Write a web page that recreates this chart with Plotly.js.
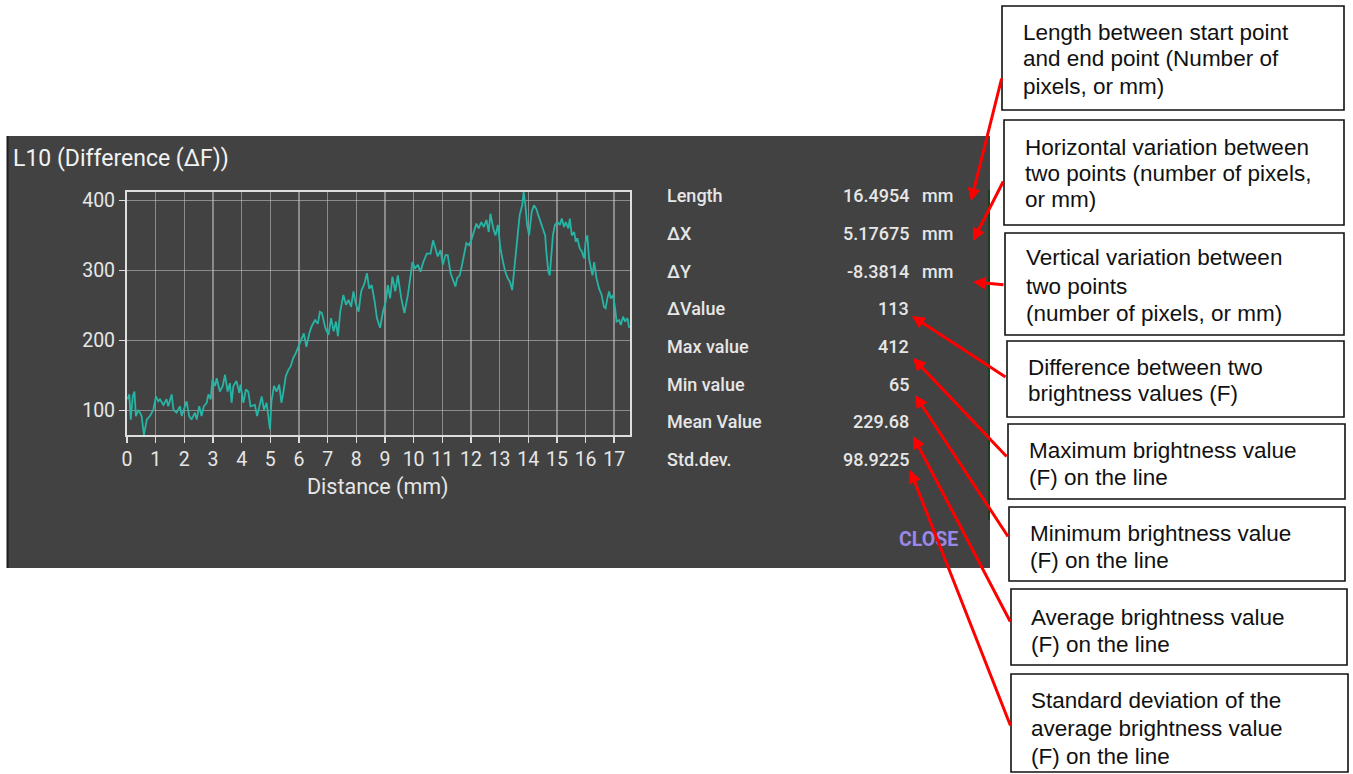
<!DOCTYPE html>
<html>
<head>
<meta charset="utf-8">
<script src="https://cdn.plot.ly/plotly-3.0.1.min.js"></script>
<style>html,body{margin:0;padding:0;background:#fff;}#chart{width:1353px;height:774px;}</style>
</head>
<body>
<div id="chart"></div>
<script>
// ---- data ----
const distance_mm = [0.02,0.08,0.13,0.20,0.26,0.31,0.40,0.51,0.59,0.69,0.80,0.92,1.01,1.09,1.15,1.27,1.38,1.44,1.56,1.62,1.73,1.85,1.91,2.02,2.08,2.17,2.25,2.37,2.43,2.52,2.60,2.68,2.78,2.84,2.92,2.98,3.07,3.13,3.24,3.34,3.42,3.51,3.59,3.65,3.71,3.82,3.92,3.96,4.06,4.15,4.23,4.31,4.46,4.54,4.61,4.70,4.78,4.87,4.99,5.04,5.13,5.22,5.31,5.39,5.47,5.54,5.63,5.71,5.80,5.89,6.01,6.09,6.17,6.26,6.36,6.44,6.56,6.66,6.73,6.80,6.92,7.03,7.12,7.21,7.29,7.36,7.44,7.55,7.64,7.73,7.82,7.90,7.98,8.08,8.17,8.29,8.37,8.45,8.54,8.64,8.72,8.83,8.93,9.03,9.10,9.18,9.26,9.36,9.45,9.57,9.68,9.80,9.88,9.96,10.05,10.15,10.24,10.34,10.46,10.59,10.68,10.76,10.84,10.94,11.02,11.11,11.19,11.29,11.38,11.46,11.52,11.61,11.69,11.77,11.84,11.93,12.01,12.10,12.19,12.27,12.36,12.45,12.54,12.62,12.68,12.78,12.86,12.94,13.03,13.12,13.20,13.28,13.36,13.44,13.52,13.61,13.70,13.79,13.84,13.90,13.96,14.03,14.12,14.20,14.28,14.35,14.43,14.52,14.59,14.63,14.70,14.75,14.82,14.86,14.93,15.02,15.10,15.17,15.25,15.31,15.40,15.45,15.52,15.60,15.66,15.71,15.80,15.87,15.95,16.00,16.06,16.12,16.19,16.24,16.30,16.38,16.47,16.56,16.64,16.70,16.76,16.82,16.88,16.96,17.03,17.08,17.17,17.23,17.31,17.38,17.46,17.52];
const brightness = [116,123,87,120,127,92,101,92,65,87,92,101,120,113,116,108,116,106,123,101,97,106,92,104,113,92,87,97,87,106,92,106,111,123,116,144,135,146,127,135,151,127,139,111,135,142,125,137,111,130,127,106,108,92,106,120,101,111,73,113,135,127,137,111,130,149,158,163,175,182,194,201,210,191,210,220,229,224,241,239,218,208,232,213,227,206,241,265,251,258,248,270,253,241,270,282,296,274,279,256,232,218,241,256,279,260,291,270,293,260,239,265,293,312,303,308,298,312,324,324,343,331,320,329,308,322,322,296,286,277,289,293,308,327,339,336,343,355,367,360,369,362,372,355,381,360,350,365,331,312,298,289,284,272,308,341,379,393,412,393,365,350,384,393,388,379,369,360,350,327,298,293,327,350,365,369,365,374,362,369,360,374,350,355,341,346,331,327,317,341,350,317,303,293,312,289,274,265,248,246,260,270,260,265,246,227,229,222,234,227,232,218];
const xTickValues = [0,1,2,3,4,5,6,7,8,9,10,11,12,13,14,15,16,17];
const yTickValues = [100,200,300,400];
const chartTitle = "L10 (Difference (ΔF))";
const xAxisTitle = "Distance (mm)";
const statLabels = ["Length","ΔX","ΔY","ΔValue","Max value","Min value","Mean Value","Std.dev."];
const statValues = ["16.4954","5.17675","-8.3814","113","412","65","229.68","98.9225"];
const statUnits = ["mm","mm","mm","","","","",""];
const closeLabel = "CLOSE";
const noteLines = [
  ["Length between start point","and end point (Number of","pixels, or mm)"],
  ["Horizontal variation between","two points (number of pixels,","or mm)"],
  ["Vertical variation between","two points","(number of pixels, or mm)"],
  ["Difference between two","brightness values (F)"],
  ["Maximum brightness value","(F) on the line"],
  ["Minimum brightness value","(F) on the line"],
  ["Average brightness value","(F) on the line"],
  ["Standard deviation of the","average brightness value","(F) on the line"]
];

// ---- layout geometry (pixels) ----
const W = 1353, H = 774;
const px = v => v / W;
const py = v => 1 - v / H;
const noteBoxes = [
  {x0:1002,x1:1344,y0:6,  y1:110,tx:1023,ty:[32,59,86], tip:[971,201], tail:[1002,77]},
  {x0:1004,x1:1344,y0:120,y1:225,tx:1025,ty:[147,173,200], tip:[973,241], tail:[1004,180]},
  {x0:1005,x1:1344,y0:233,y1:335,tx:1026,ty:[258,286,313], tip:[973,282], tail:[1005,285]},
  {x0:1007,x1:1344,y0:341,y1:417,tx:1028,ty:[367,393], tip:[912,316], tail:[1007,378]},
  {x0:1008,x1:1345,y0:424,y1:499,tx:1029,ty:[450,477], tip:[913,358], tail:[1008,458]},
  {x0:1009,x1:1345,y0:507,y1:581,tx:1030,ty:[533,560], tip:[915,395], tail:[1009,538]},
  {x0:1011,x1:1347,y0:589,y1:665,tx:1031,ty:[617,644], tip:[913,436], tail:[1011,623]},
  {x0:1011,x1:1348,y0:674,y1:772,tx:1031,ty:[700,728,756], tip:[910,470], tail:[1011,727]}
];

const panelFont = "Roboto, 'Segoe UI', sans-serif";
const noteFont = "'Liberation Sans', Arial, sans-serif";
const lightText = "#e6e6e6";

const shapes = [
  {type:'rect', xref:'paper', yref:'paper', x0:px(7), x1:px(990), y0:py(568), y1:py(136), fillcolor:'#424242', line:{width:0}, layer:'below'},
  {type:'line', xref:'paper', yref:'paper', x0:px(7.5), x1:px(7.5), y0:py(568), y1:py(136), line:{color:'#1e1e1e', width:2}, layer:'below'},
  {type:'line', xref:'paper', yref:'paper', x0:px(989), x1:px(989), y0:py(520), y1:py(190), line:{color:'#1d3d1d', width:2}, layer:'below'}
];
noteBoxes.forEach(b => shapes.push({type:'rect', xref:'paper', yref:'paper', x0:px(b.x0), x1:px(b.x1), y0:py(b.y1), y1:py(b.y0), fillcolor:'#ffffff', line:{color:'#111111', width:1.6}, layer:'above'}));

function txt(x, y, text, font, xanchor) {
  return {xref:'paper', yref:'paper', x:px(x), y:py(y), text:text, showarrow:false, xanchor:xanchor||'left', yanchor:'middle', font:font, borderpad:0, borderwidth:0};
}

const statFont = {family:panelFont, size:18, color:lightText, weight:500};
const annotations = [];
annotations.push(txt(378, 487, xAxisTitle, {family:panelFont, size:21.5, color:lightText}, 'center'));
const rowY0 = 196, rowStep = 37.6;
statLabels.forEach((lab, i) => {
  const y = rowY0 + i * rowStep;
  annotations.push(txt(667, y, lab, statFont, 'left'));
  annotations.push(txt(909, y, statValues[i], statFont, 'right'));
  if (statUnits[i]) annotations.push(txt(922, y, statUnits[i], statFont, 'left'));
});
annotations.push(txt(958, 539, '<b>' + closeLabel + '</b>', {family:panelFont, size:19.5, color:'#9c86e8'}, 'right'));

noteBoxes.forEach((b, i) => {
  noteLines[i].forEach((line, j) => annotations.push(txt(b.tx, b.ty[j], line, {family:noteFont, size:22.5, color:'#111111'}, 'left')));
  annotations.push({xref:'paper', yref:'paper', x:px(b.tip[0]), y:py(b.tip[1]), ax:b.tail[0]-b.tip[0], ay:b.tail[1]-b.tip[1], axref:'pixel', ayref:'pixel', text:'', showarrow:true, arrowhead:2, arrowsize:0.85, arrowwidth:3, arrowcolor:'#ff0000', standoff:0, startstandoff:0});
});

const trace = {x:distance_mm, y:brightness, type:'scatter', mode:'lines', line:{color:'#27b4a4', width:1.8}, hoverinfo:'skip', showlegend:false};

const axisCommon = {
  showgrid:true, gridcolor:'rgba(200,200,200,0.55)', gridwidth:1.5,
  showline:true, mirror:true, linecolor:'#dedede', linewidth:2,
  ticks:'outside', ticklen:6, tickwidth:1.5, tickcolor:'#dedede',
  tickfont:{family:panelFont, size:19.5, color:lightText},
  zeroline:false, fixedrange:true, automargin:false
};

const layout = {
  width:W, height:H,
  margin:{l:0, r:0, t:0, b:0, pad:0},
  paper_bgcolor:'#ffffff', plot_bgcolor:'#424242',
  showlegend:false,
  title:{text:chartTitle, xref:'paper', yref:'paper', x:px(13), y:py(158), xanchor:'left', yanchor:'middle', font:{family:panelFont, size:23, color:'#f2f2f2'}},
  xaxis:Object.assign({}, axisCommon, {domain:[px(127), px(630)], range:[0,17.55], tickvals:xTickValues, ticklabelstandoff:0}),
  yaxis:Object.assign({}, axisCommon, {domain:[py(435), py(192)], range:[65,412], tickvals:yTickValues, ticklabelstandoff:0}),
  shapes:shapes,
  annotations:annotations
};

Plotly.newPlot('chart', [trace], layout, {staticPlot:true, displayModeBar:false});
</script>
</body>
</html>
